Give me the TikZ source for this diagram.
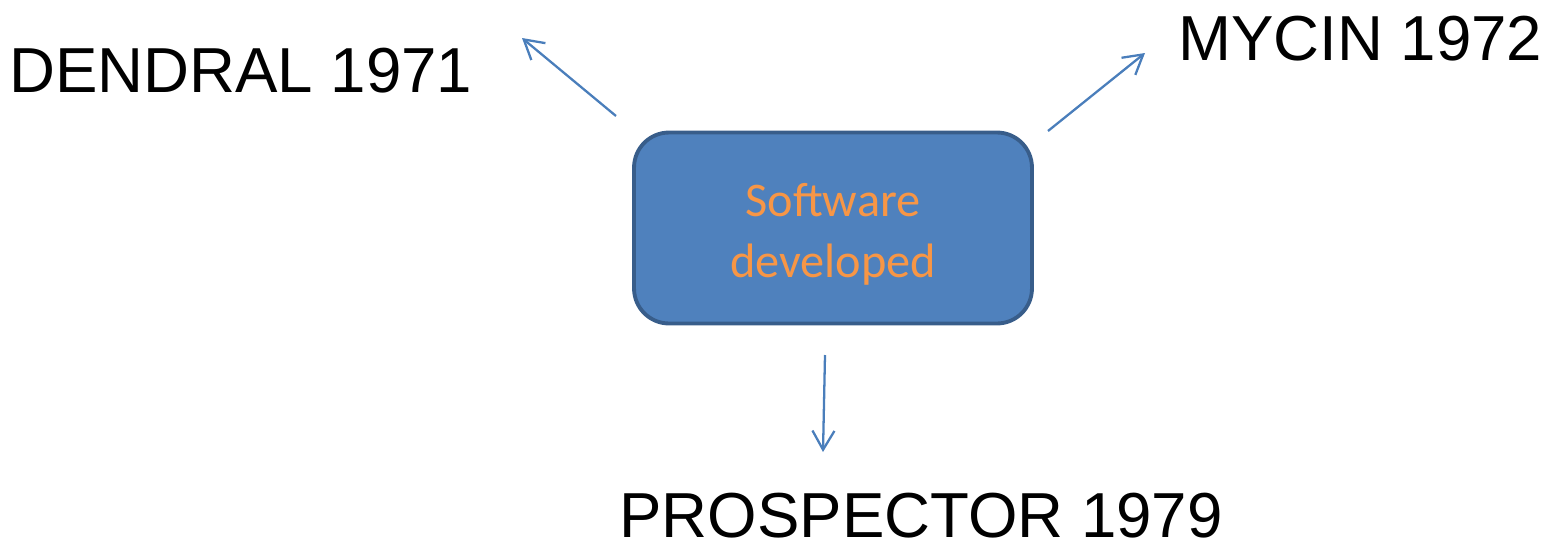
\documentclass[tikz,border=0pt]{standalone}
\usepackage{fontspec}
\setmainfont{Liberation Sans}
\newfontfamily\boxfont{Carlito}
\usetikzlibrary{arrows.meta}
\definecolor{boxblue}{HTML}{4F81BD}
\definecolor{boxedge}{HTML}{385D8A}
\definecolor{arrowblue}{HTML}{4A7EBB}
\definecolor{textorange}{HTML}{F79646}

\begin{document}
\begin{tikzpicture}[x=0.02cm,y=-0.02cm,
  lbl/.style={anchor=base west,inner sep=0pt,font=\fontsize{36.2}{43}\selectfont},
  sw/.style={draw=boxedge,line width=2.2pt,fill=boxblue,rounded corners=0.7cm,
    minimum width=7.96cm,minimum height=3.82cm,align=center,text=textorange,
    font=\boxfont\fontsize{27.5}{34.5}\selectfont}]
\useasboundingbox (0,0) rectangle (1553,542);
\node[sw] (S) at (833,228) {\rule{0pt}{26pt}Software\\developed};
\node[lbl] (D) at (9,92) {DENDRAL 1971};
\node[lbl] (M) at (1178,60) {MYCIN 1972};
\node[lbl] (P) at (619,537) {PROSPECTOR 1979};
\coordinate (s1) at (616,116);
\coordinate (d1) at (522,38);
\coordinate (s2) at (1048,131);
\coordinate (m1) at (1145,53);
\coordinate (s3) at (825,355);
\coordinate (p1) at (823,452);
\path[-{Straight Barb[length=3.8mm,width=4.4mm]},color=arrowblue,line width=1.3pt]
(s1) edge (d1)
(s2) edge (m1)
(s3) edge (p1);
\end{tikzpicture}
\end{document}
